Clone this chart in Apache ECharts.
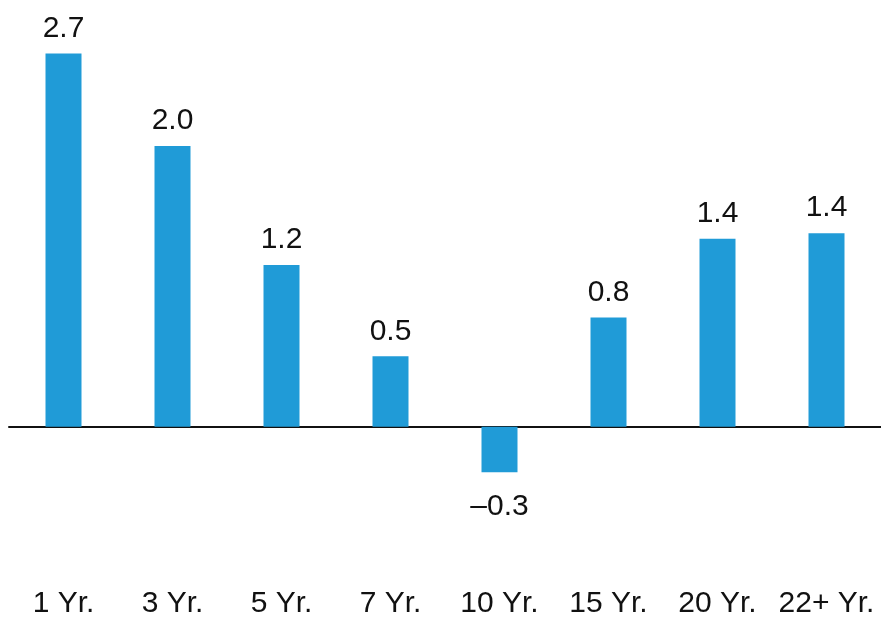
<!DOCTYPE html>
<html>
<head>
<meta charset="utf-8">
<script src="https://cdn.jsdelivr.net/npm/echarts@6/dist/echarts.min.js"></script>
<style>html,body{margin:0;padding:0;background:#fff}#c{width:881px;height:619px}</style>
</head>
<body>
<div id="c"></div>
<script>
const categories = ["1 Yr.", "3 Yr.", "5 Yr.", "7 Yr.", "10 Yr.", "15 Yr.", "20 Yr.", "22+ Yr."];
const values = [2.70, 2.03, 1.17, 0.51, -0.33, 0.79, 1.36, 1.40];
const valueLabels = ["2.7", "2.0", "1.2", "0.5", "\u20130.3", "0.8", "1.4", "1.4"];

const chart = echarts.init(document.getElementById('c'), null, {renderer: 'canvas'});
const font = 'Liberation Sans, Arial, sans-serif';
chart.setOption({
  animation: false,
  grid: {left: 9, right: -2, top: 12, bottom: 51, containLabel: false},
  xAxis: [
    {
      type: 'category', data: categories, position: 'bottom',
      axisLine: {show: false, onZero: false}, axisTick: {show: false},
      axisLabel: {color: '#111', fontSize: 30, fontFamily: font, margin: 24, interval: 0}
    },
    {
      type: 'category', data: categories, position: 'bottom',
      axisLine: {show: true, onZero: true, lineStyle: {color: '#111', width: 2}},
      axisTick: {show: false}, axisLabel: {show: false}
    }
  ],
  yAxis: {
    type: 'value', min: -1.0, max: 3.0, show: false,
    splitLine: {show: false}
  },
  series: [{
    type: 'bar', xAxisIndex: 0,
    data: values.map((v, i) => ({
      value: v,
      label: {
        show: true,
        position: v < 0 ? 'bottom' : 'top',
        distance: v < 0 ? 19 : 10,
        formatter: () => valueLabels[i]
      }
    })),
    barWidth: 36,
    itemStyle: {color: '#209BD7'},
    label: {color: '#111', fontSize: 30, fontFamily: font}
  }]
});
</script>
</body>
</html>
